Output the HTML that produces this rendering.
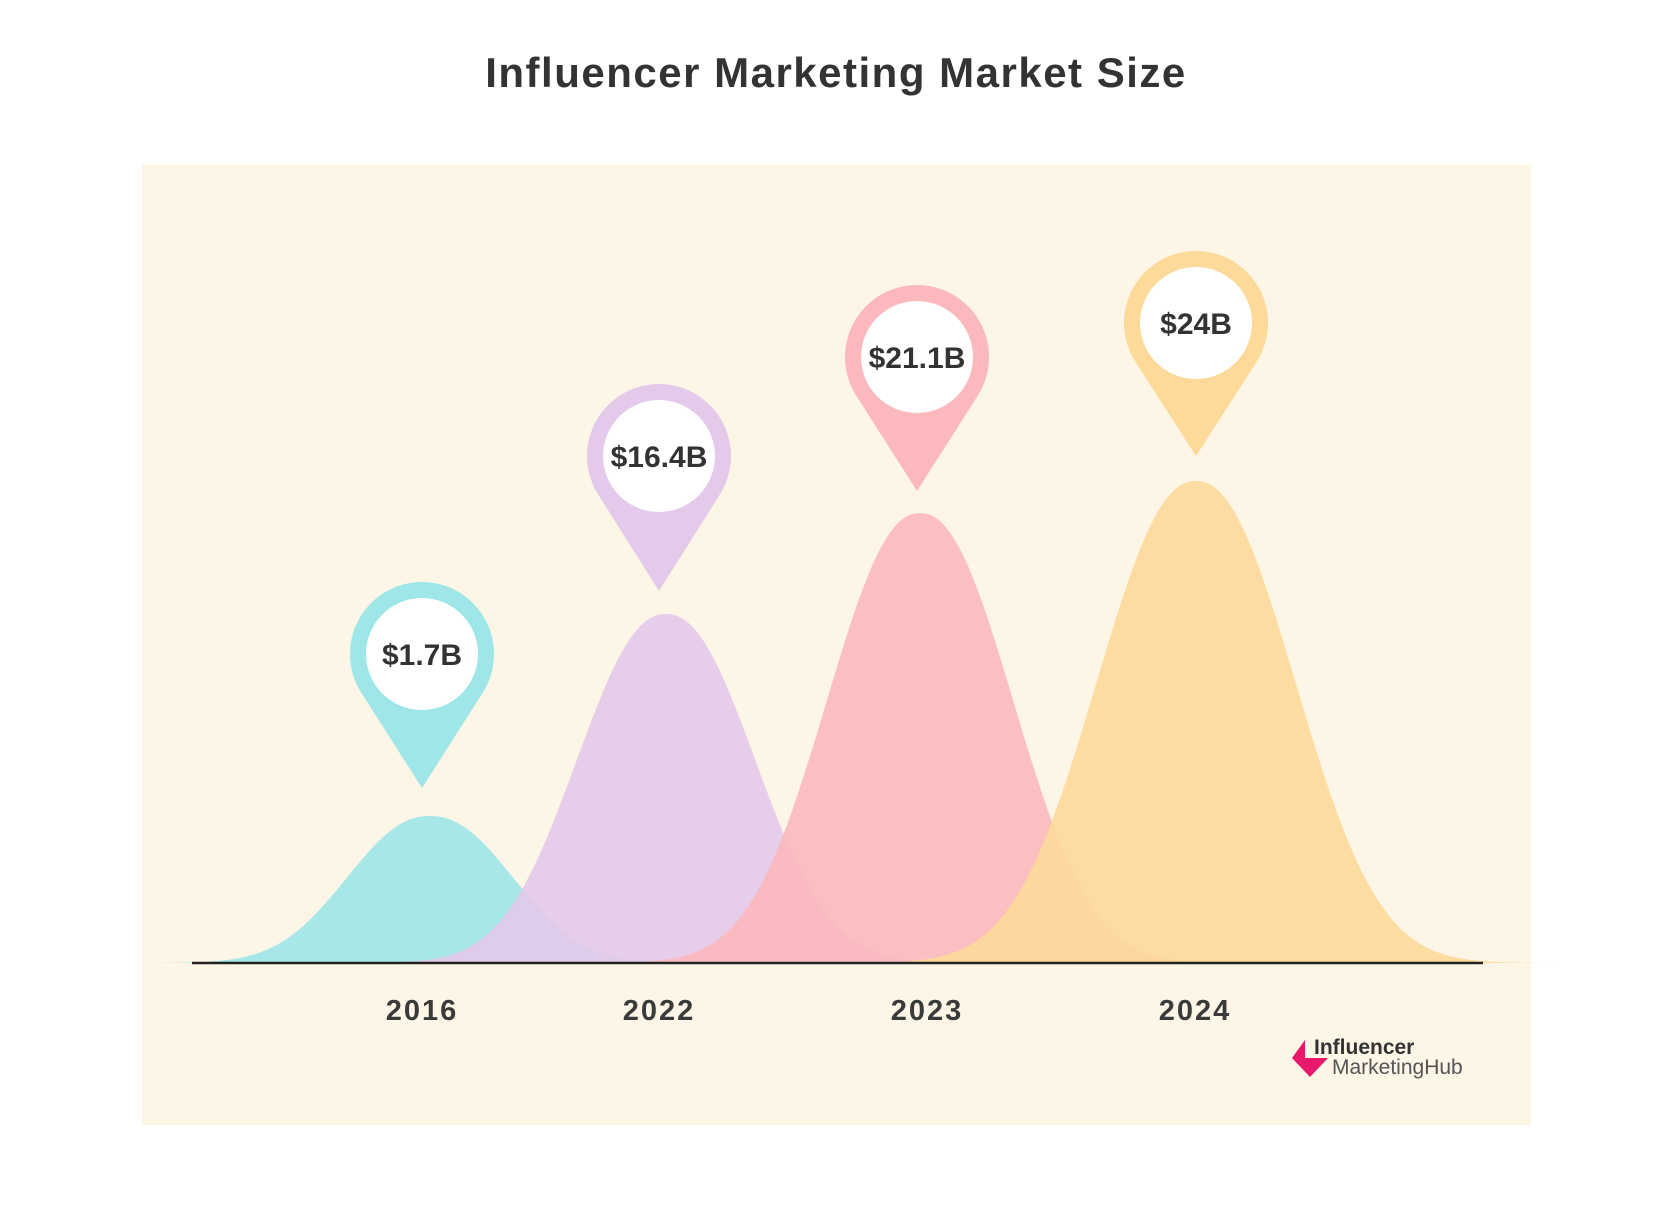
<!DOCTYPE html>
<html><head><meta charset="utf-8"><style>
html,body{margin:0;padding:0;background:#fff;}
body{width:1656px;height:1222px;position:relative;overflow:hidden;font-family:"Liberation Sans","DejaVu Sans",sans-serif;}
</style></head><body>
<svg id="s" width="1656" height="1222" viewBox="0 0 1656 1222" xmlns="http://www.w3.org/2000/svg">
<text x="836" y="87" text-anchor="middle" font-family="Liberation Sans, sans-serif" font-size="42" font-weight="bold" fill="#333" letter-spacing="1.5">Influencer Marketing Market Size</text>
<rect x="142" y="165" width="1389" height="960" fill="#fdf5e6"/>
<g id="bells"></g>
<line x1="192" y1="963" x2="1483" y2="963" stroke="#222" stroke-width="2.5"/>
<g id="pins"></g>
<g font-family="Liberation Sans, sans-serif" font-size="29" font-weight="bold" fill="#3a3a3a" text-anchor="middle" letter-spacing="2">
<text x="422" y="1020">2016</text><text x="659" y="1020">2022</text><text x="927" y="1020">2023</text><text x="1195" y="1020">2024</text>
</g>
<polygon points="1305,1040 1292,1058 1310,1077 1328,1058 1305,1058" fill="#e8186c"/>
<text x="1314" y="1054" font-family="Liberation Sans, sans-serif" font-size="21" font-weight="bold" fill="#333">Influencer</text>
<text x="1332" y="1074" font-family="Liberation Sans, sans-serif" font-size="21" fill="#555">MarketingHub</text>
</svg>
<script>
var NS="http://www.w3.org/2000/svg",B=963;
var bells=[[430,816,80,"#9fe6e8"],[666,614,86,"#e3c9ea"],[920,513,90,"#fbb8bd"],[1196,481,96,"#fdd99a"]];
var g=document.getElementById("bells");
bells.forEach(function(b){var d="M"+(b[0]-4.5*b[2])+","+B;for(var x=-4.5*b[2];x<=4.5*b[2];x+=3){var t=x/b[2];var y=B-(B-b[1])*Math.exp(-Math.pow(Math.abs(t),2.2)/2);d+=" L"+(b[0]+x).toFixed(1)+","+y.toFixed(1);}d+=" L"+(b[0]+4.5*b[2])+","+B+"Z";var p=document.createElementNS(NS,"path");p.setAttribute("d",d);p.setAttribute("fill",b[3]);p.setAttribute("fill-opacity","0.9");g.appendChild(p);});
var pins=[[422,654,788,"#9fe6e8","$1.7B"],[659,456,591,"#e3c9ea","$16.4B"],[917,357,491,"#fbb8bd","$21.1B"],[1196,323,456,"#fdd99a","$24B"]];
var pg=document.getElementById("pins"),R=72,r=42;
pins.forEach(function(p){var cx=p[0],cy=p[1],h=p[2]-cy;var a=Math.asin(R/h);
var px=R*Math.cos(a),py=R*Math.sin(a);
var d="M"+cx+","+p[2]+" L"+(cx-px).toFixed(1)+","+(cy+py).toFixed(1)+" A"+R+","+R+" 0 1 1 "+(cx+px).toFixed(1)+","+(cy+py).toFixed(1)+" Z";
var e=document.createElementNS(NS,"path");e.setAttribute("d",d);e.setAttribute("fill",p[3]);pg.appendChild(e);
var c=document.createElementNS(NS,"circle");c.setAttribute("cx",cx);c.setAttribute("cy",cy);c.setAttribute("r",r+14);c.setAttribute("fill","#fff");pg.appendChild(c);
var t=document.createElementNS(NS,"text");t.setAttribute("x",cx);t.setAttribute("y",cy+11);t.setAttribute("text-anchor","middle");t.setAttribute("font-family","Liberation Sans, sans-serif");t.setAttribute("font-size","30");t.setAttribute("font-weight","bold");t.setAttribute("fill","#333");t.textContent=p[4];pg.appendChild(t);});
</script>
</body></html>
